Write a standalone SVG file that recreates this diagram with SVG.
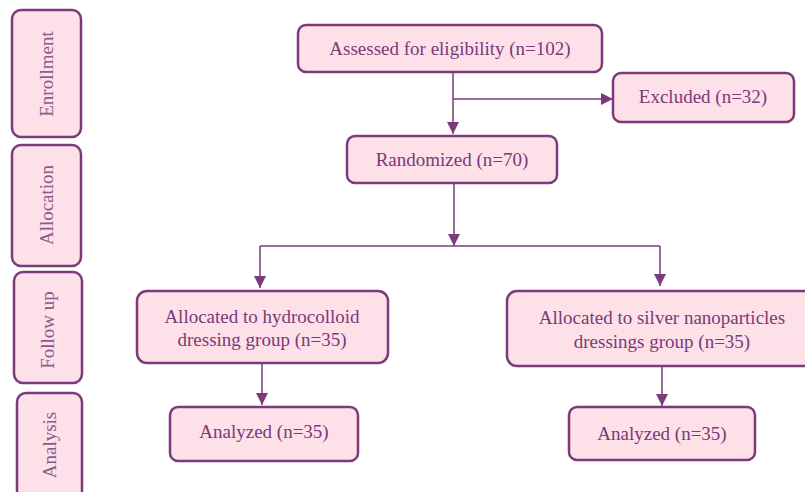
<svg xmlns="http://www.w3.org/2000/svg" width="805" height="492" viewBox="0 0 805 492">
<style>
.box{fill:#fde0e8;stroke:#7b3b7b;stroke-width:2.5}
.ln{fill:none;stroke:#7b3b7b;stroke-width:1.5}
</style>
<defs>
<marker id="ah" viewBox="0 0 12 12" refX="12" refY="6" markerWidth="12" markerHeight="12" markerUnits="userSpaceOnUse" orient="auto">
<path d="M0,0 L12,6 L0,12 Z" fill="#7b3b7b"/>
</marker>
</defs>
<g id="side-enrollment"><rect class="box" x="12" y="10" width="69" height="127" rx="9"/><text font-family="Liberation Serif" font-size="19" fill="#8c5a8c" text-anchor="middle" transform="translate(53,74) rotate(-90)">Enrollment</text></g>
<g id="side-allocation"><rect class="box" x="12" y="145" width="69" height="121" rx="9"/><text font-family="Liberation Serif" font-size="19" fill="#8c5a8c" text-anchor="middle" transform="translate(53,205) rotate(-90)">Allocation</text></g>
<g id="side-followup"><rect class="box" x="14" y="272" width="68" height="111" rx="9"/><text font-family="Liberation Serif" font-size="19" fill="#8c5a8c" text-anchor="middle" transform="translate(54,330) rotate(-90)">Follow up</text></g>
<g id="side-analysis"><rect class="box" x="17" y="393" width="65" height="110" rx="9"/><text font-family="Liberation Serif" font-size="19" fill="#8c5a8c" text-anchor="middle" transform="translate(56,445) rotate(-90)">Analysis</text></g>
<g id="connectors">
<line class="ln" x1="453" y1="72" x2="453" y2="134" marker-end="url(#ah)"/>
<line class="ln" x1="453" y1="99" x2="613" y2="99" marker-end="url(#ah)"/>
<line class="ln" x1="454" y1="183" x2="454" y2="246" marker-end="url(#ah)"/>
<line class="ln" x1="260" y1="246" x2="660" y2="246"/>
<line class="ln" x1="260" y1="246" x2="260" y2="288" marker-end="url(#ah)"/>
<line class="ln" x1="660" y1="246" x2="660" y2="286" marker-end="url(#ah)"/>
<line class="ln" x1="262" y1="363" x2="262" y2="405" marker-end="url(#ah)"/>
<line class="ln" x1="662" y1="366" x2="662" y2="406" marker-end="url(#ah)"/>
</g>
<g id="assessed"><rect class="box" x="298" y="25" width="304" height="47" rx="8"/><text font-family="Liberation Serif" font-size="19" fill="#7a3a7a" text-anchor="middle" x="450" y="55">Assessed for eligibility (n=102)</text></g>
<g id="excluded"><rect class="box" x="613" y="73" width="181" height="49" rx="8"/><text font-family="Liberation Serif" font-size="19" fill="#7a3a7a" text-anchor="middle" x="703" y="103">Excluded (n=32)</text></g>
<g id="randomized"><rect class="box" x="347" y="136" width="210" height="47" rx="8"/><text font-family="Liberation Serif" font-size="19" fill="#7a3a7a" text-anchor="middle" x="452" y="166">Randomized (n=70)</text></g>
<g id="hydrocolloid"><rect class="box" x="137" y="291" width="251" height="72" rx="10"/><text font-family="Liberation Serif" font-size="19" fill="#7a3a7a" text-anchor="middle" x="262" y="323">Allocated to hydrocolloid</text><text font-family="Liberation Serif" font-size="19" fill="#7a3a7a" text-anchor="middle" x="262" y="346">dressing group (n=35)</text></g>
<g id="silver"><rect class="box" x="507" y="291" width="310" height="75" rx="10"/><text font-family="Liberation Serif" font-size="19" fill="#7a3a7a" text-anchor="middle" x="662" y="324">Allocated to silver nanoparticles</text><text font-family="Liberation Serif" font-size="19" fill="#7a3a7a" text-anchor="middle" x="662" y="348">dressings group (n=35)</text></g>
<g id="analyzed-left"><rect class="box" x="170" y="407" width="188" height="54" rx="8"/><text font-family="Liberation Serif" font-size="19" fill="#7a3a7a" text-anchor="middle" x="264" y="438">Analyzed (n=35)</text></g>
<g id="analyzed-right"><rect class="box" x="569" y="407" width="186" height="53" rx="8"/><text font-family="Liberation Serif" font-size="19" fill="#7a3a7a" text-anchor="middle" x="662" y="440">Analyzed (n=35)</text></g>
</svg>
